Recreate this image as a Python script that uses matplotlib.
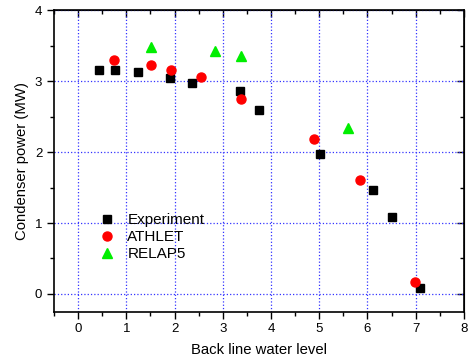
import matplotlib
matplotlib.use("Agg")
import matplotlib.pyplot as plt
from matplotlib.ticker import MultipleLocator

plt.rcParams['font.family'] = ['Liberation Sans', 'DejaVu Sans']

exp_x = [0.43, 0.76, 1.24, 1.90, 2.37, 3.35, 3.76, 5.02, 6.12, 6.51, 7.08]
exp_y = [3.165, 3.155, 3.13, 3.04, 2.97, 2.855, 2.59, 1.976, 1.46, 1.08, 0.09]
ath_x = [0.745, 1.51, 1.93, 2.54, 3.38, 4.89, 5.85, 6.98]
ath_y = [3.305, 3.225, 3.155, 3.066, 2.746, 2.18, 1.61, 0.17]
rel_x = [1.51, 2.84, 3.38, 5.60]
rel_y = [3.48, 3.42, 3.36, 2.34]

fig = plt.figure(figsize=(4.7, 3.61), dpi=100)
ax = fig.add_axes([0.1149, 0.1366, 0.8721, 0.8349])

ax.plot(exp_x, exp_y, 's', color='black', ms=6, ls='none', label='Experiment')
ax.plot(ath_x, ath_y, 'o', color='red', ms=6.5, ls='none', label='ATHLET')
ax.plot(rel_x, rel_y, '^', color='#00ee00', ms=7, ls='none', label='RELAP5')

ax.set_xlim(-0.5, 8)
ax.set_ylim(-0.25, 4)
ax.xaxis.set_major_locator(MultipleLocator(1))
ax.xaxis.set_minor_locator(MultipleLocator(0.5))
ax.yaxis.set_major_locator(MultipleLocator(1))
ax.yaxis.set_minor_locator(MultipleLocator(0.5))
ax.grid(True, which='major', color='#3333ff', ls=':', lw=0.9)
ax.set_axisbelow(True)

ax.tick_params(which='both', direction='out', top=False, right=False, labelsize=9.5, width=1)
ax.tick_params(which='major', length=5)
ax.tick_params(which='minor', length=3)
for sp in ax.spines.values():
    sp.set_linewidth(1.2)

# inward ticks on top and right
secx = ax.secondary_xaxis('top')
secx.xaxis.set_major_locator(MultipleLocator(1))
secx.xaxis.set_minor_locator(MultipleLocator(0.5))
secx.tick_params(which='both', direction='in', labeltop=False, width=1)
secx.tick_params(which='major', length=5)
secx.tick_params(which='minor', length=3)
secy = ax.secondary_yaxis('right')
secy.yaxis.set_major_locator(MultipleLocator(1))
secy.yaxis.set_minor_locator(MultipleLocator(0.5))
secy.tick_params(which='both', direction='in', labelright=False, width=1)
secy.tick_params(which='major', length=5)
secy.tick_params(which='minor', length=3)

ax.set_xlabel('Back line water level', fontsize=10.7, labelpad=5.5)
ax.set_ylabel('Condenser power (MW)', fontsize=10.7, labelpad=4)

leg = ax.legend(loc='lower left', bbox_to_anchor=(0.067, 0.132), frameon=False,
                fontsize=11, handletextpad=0.3, labelspacing=0.2, borderpad=0.2)

fig.savefig('out.png', dpi=100)
